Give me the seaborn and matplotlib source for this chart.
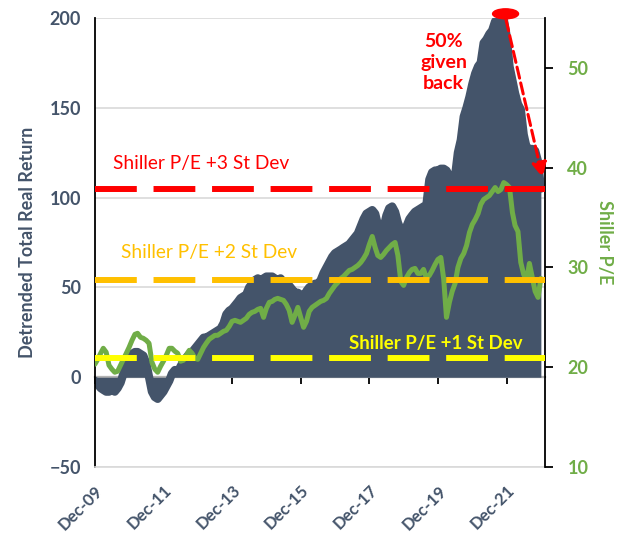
import matplotlib
matplotlib.use('Agg')
import matplotlib.pyplot as plt
import matplotlib.dates as mdates
from matplotlib.patches import Ellipse
import pandas as pd
import seaborn as sns

sns.set_style('white')
plt.rcParams['font.family'] = ['Lato', 'DejaVu Sans']

# monthly data, Dec-2009 .. Dec-2022
dates = pd.date_range('2009-12-01', periods=157, freq='MS')

real_return = [
    -2,
    -4, -6, -7, -8, -8, -7, -8, -6, -3, 2, 8, 12,
    13, 14, 14, 13, 12, 8, 0, -8, -11, -12, -10, -8,
    -5, -2, 2, 4, 3, 6, 9, 11, 13, 14, 16, 18,
    20, 22, 22, 23, 24, 25, 26, 27, 30, 35, 37, 38,
    40, 42, 44, 45, 46, 50, 52, 54, 55, 54, 55, 56,
    56, 56, 55, 54, 55, 53, 50, 51, 49, 47, 47, 46,
    44, 48, 50, 51, 52, 52, 54, 58, 61, 64, 67, 69,
    70, 71, 72, 73, 74, 76, 78, 80, 84, 88, 91, 92,
    93, 91, 85, 80, 83, 90, 94, 95, 92, 86, 82, 81,
    84, 88, 90, 92, 93, 94, 95, 96, 110, 114, 115, 115,
    116, 116, 115, 112, 103, 112, 125, 132, 145, 150, 156, 163,
    169, 173, 175, 186, 188, 191, 193, 198, 200, 200, 199, 190,
    173, 165, 158, 152, 149, 135, 128, 127, 127, 126, 120, 105,
]

shiller_pe = [
    20.3,
    20.8, 21.4, 21.9, 21.5, 20.2, 19.8, 19.5, 19.6, 20.2, 20.8, 21.4, 22.0,
    22.7, 23.3, 23.4, 23.0, 22.9, 22.7, 22.4, 20.5, 19.8, 19.5, 20.1, 20.6,
    21.2, 21.9, 21.9, 21.6, 21.4, 20.6, 20.7, 21.2, 21.7, 21.4, 20.9, 20.8,
    21.4, 22.0, 22.4, 22.8, 23.0, 23.2, 23.2, 23.4, 23.6, 23.7, 24.1, 24.6,
    24.7, 24.6, 24.5, 24.7, 24.9, 25.3, 25.5, 25.6, 25.8, 25.9, 25.0, 25.9,
    26.5, 26.6, 26.8, 26.9, 26.8, 26.7, 26.3, 25.7, 24.5, 25.2, 26.0, 25.0,
    24.0, 24.6, 25.6, 26.0, 26.2, 26.4, 26.6, 26.7, 26.9, 27.4, 27.8, 28.2,
    28.5, 28.9, 29.1, 29.4, 29.7, 29.8, 30.0, 30.2, 30.5, 30.9, 31.4, 32.3,
    33.1, 32.0, 31.2, 31.0, 31.3, 31.7, 32.0, 32.3, 32.5, 31.2, 28.6, 28.2,
    29.0, 29.5, 29.8, 29.9, 29.4, 29.4, 29.8, 28.9, 29.2, 29.7, 30.3, 30.8,
    31.0, 28.8, 25.0, 26.5, 27.6, 28.4, 30.0, 30.9, 31.4, 32.2, 33.5, 34.3,
    34.8, 35.4, 36.3, 36.8, 37.0, 37.2, 37.6, 38.0, 37.6, 37.8, 38.5, 38.3,
    38.0, 35.5, 34.2, 33.6, 30.5, 29.3, 28.7, 30.4, 29.0, 27.6, 27.0, 28.9,
]

sd_levels = [37.9, 28.7, 20.9]
sd_labels = ['Shiller P/E +3 St Dev', 'Shiller P/E +2 St Dev', 'Shiller P/E +1 St Dev']
sd_colors = ['#FF0000', '#FFC000', '#FFFF00']

slate = '#44546A'
green = '#70AD47'

df = pd.DataFrame({'date': dates, 'ret': real_return, 'pe': shiller_pe})

fig = plt.figure(figsize=(6.28, 5.4), dpi=100)
ax = fig.add_axes([0.151, 0.135, 0.717, 0.832])

# area for detrended return
ax.fill_between(df['date'], 0, df['ret'], color=slate, lw=0, zorder=2)
sns.lineplot(data=df, x='date', y='ret', ax=ax, color=slate, lw=6, zorder=2,
             solid_joinstyle='round', solid_capstyle='round')

ax.set_xlim(pd.Timestamp('2009-12-01'), pd.Timestamp('2023-01-15'))
ax.set_ylim(-50, 200)
ax.set_yticks(range(-50, 201, 50))
ax.yaxis.grid(True, color='#D9D9D9', lw=1.2)
ax.set_axisbelow(True)
ax.set_xlabel('')
ax.set_ylabel('Detrended Total Real Return', color=slate, fontsize=13,
              fontweight='bold', labelpad=10)
ax.tick_params(axis='y', length=0, labelcolor=slate, labelsize=13, pad=10)
for lab in ax.get_yticklabels():
    lab.set_fontweight('bold')

xt = pd.date_range('2009-12-01', '2021-12-01', freq='24MS')
ax.set_xticks(xt)
ax.set_xticklabels([d.strftime('%b-%y') for d in xt], rotation=45, ha='right',
                   rotation_mode='anchor', color=slate, fontsize=12, fontweight='bold')
ax.tick_params(axis='x', length=0, pad=11)

for s in ['top', 'right']:
    ax.spines[s].set_visible(False)
ax.spines['left'].set_color('black')
ax.spines['left'].set_linewidth(1.3)
ax.spines['bottom'].set_color('#D9D9D9')
ax.spines['bottom'].set_linewidth(1.2)

# zero line with tick marks
sec = ax.secondary_xaxis(0.2)
sec.set_xticks(mdates.date2num(xt))
sec.tick_params(axis='x', length=5, width=1.3, color='black', labelbottom=False)
sec.spines['bottom'].set_color('black')
sec.spines['bottom'].set_linewidth(1.5)

# Shiller P/E on right axis
ax2 = ax.twinx()
sns.lineplot(data=df, x='date', y='pe', ax=ax2, color=green, lw=3.6, zorder=3)
for lvl, col in zip(sd_levels, sd_colors):
    ax2.axhline(lvl, color=col, lw=4.3, ls=(0, (7, 2.8)), zorder=4)

ax2.set_ylim(10, 55)
ax2.set_yticks(range(10, 51, 10))
ax2.tick_params(axis='y', length=6, width=1.3, color='black', labelcolor=green,
                labelsize=13, pad=10)
for lab in ax2.get_yticklabels():
    lab.set_fontweight('bold')
ax2.set_ylabel('Shiller P/E', color=green, fontsize=13, fontweight='bold',
               rotation=-90, labelpad=18)
for s in ['top', 'left', 'bottom']:
    ax2.spines[s].set_visible(False)
ax2.spines['right'].set_color('black')
ax2.spines['right'].set_linewidth(1.3)
ax2.set_xlabel('')

# labels
ax2.text(pd.Timestamp('2010-06-15'), 40.4, sd_labels[0], color=sd_colors[0],
         fontsize=13.8, va='center', ha='left')
ax2.text(pd.Timestamp('2010-09-01'), 31.5, sd_labels[1], color=sd_colors[1],
         fontsize=13.8, va='center', ha='left')
ax2.text(pd.Timestamp('2017-05-01'), 22.4, sd_labels[2], color=sd_colors[2],
         fontsize=13.4, va='center', ha='left', fontweight='bold')
ax2.text(pd.Timestamp('2020-02-01'), 50.5, '50%\ngiven\nback', color='#FF0000',
         fontsize=14, fontweight='bold', ha='center', va='center', linespacing=1.3)

peak = mdates.date2num(pd.Timestamp('2021-11-20'))
ax2.add_patch(Ellipse((peak, 55.4), 276, 1.0, color='#FF0000', clip_on=False, zorder=6))
ax2.annotate('', xy=(pd.Timestamp('2022-12-20'), 39.0),
             xytext=(pd.Timestamp('2021-11-25'), 54.8),
             arrowprops=dict(arrowstyle='-|>', color='#FF0000', lw=2.2, ls='--',
                             mutation_scale=22, shrinkA=0, shrinkB=0),
             annotation_clip=False, zorder=6)

fig.savefig('out.png', dpi=100)
